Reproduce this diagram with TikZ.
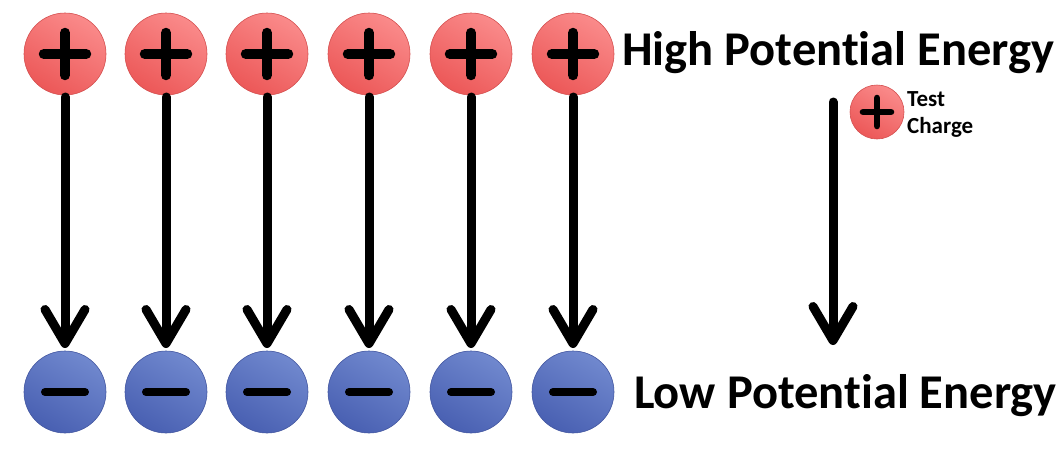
\documentclass[tikz,border=0pt]{standalone}
\usepackage{fontspec}
\setmainfont{Carlito}[Ligatures={NoCommon,NoRequired}]
\usetikzlibrary{arrows.meta}
\definecolor{poslight}{HTML}{FA8A8A}
\definecolor{posdark}{HTML}{EC5858}
\definecolor{negligh}{HTML}{7088CE}
\definecolor{negdark}{HTML}{4960B2}
\begin{document}
\begin{tikzpicture}[x=1pt,y=-1pt,
   poscharge/.style={circle,minimum size=#1,inner sep=0pt,outer sep=2pt,
      draw=posdark!90!black,line width=0.6pt,
      top color=poslight,bottom color=posdark,shading angle=-30,
      path picture={\draw[black,line width=0.12*#1,line cap=round]
         ([xshift=-0.26*#1]path picture bounding box.center) -- ++(0.52*#1,0)
         ([yshift=-0.26*#1]path picture bounding box.center) -- ++(0,0.52*#1);}},
   negcharge/.style={circle,minimum size=82pt,inner sep=0pt,outer sep=3pt,
      draw=negdark!90!black,line width=0.6pt,
      top color=negligh,bottom color=negdark,shading angle=-30,
      path picture={\draw[black,line width=8pt,line cap=round]
         ([xshift=-20pt]path picture bounding box.center) -- ++(40pt,0);}},
   fall/.style={line width=9pt,line cap=round,
      -{Straight Barb[length=34pt,width=40pt,round]}},
   label/.style={font=\bfseries\fontsize{48.5}{58}\selectfont,inner sep=0pt,anchor=base west}]
   \useasboundingbox (0,0) rectangle (1058,451);
   % Charges
   \foreach \i/\x in {1/65,2/166,3/267,4/369,5/471,6/573}{
      \node[poscharge=82pt] (p\i) at (\x,54) {};
      \node[negcharge]      (m\i) at (\x,392) {};
      \draw[fall] (p\i) -- (m\i);
   }
   % Labels
   \node[label] (high) at (622,65) {High Potential Energy};
   \node[label] (low)  at (634,408) {Low Potential Energy};
   % Test charge
   \node[poscharge=54pt] (t) at (877,112) {};
   \node[anchor=base west,inner sep=0pt,align=left,
      font=\bfseries\fontsize{23}{27}\selectfont] (tlabel) at (907,133) {Test\\Charge};
   \coordinate (ttop) at (833,102);
   \coordinate (tbot) at (833,345);
   \draw[fall] (ttop) -- (tbot);
\end{tikzpicture}
\end{document}
